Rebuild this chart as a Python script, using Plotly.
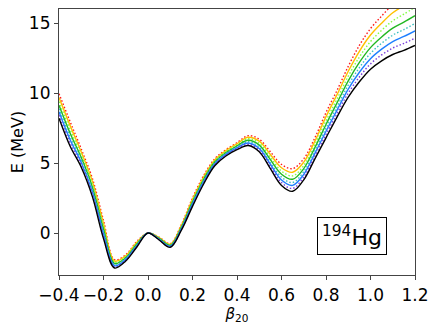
import plotly.graph_objects as go

beta = [-0.40, -0.35, -0.30, -0.25, -0.20, -0.15, -0.10, -0.05, 0.00, 0.05, 0.10,
        0.15, 0.20, 0.25, 0.30, 0.35, 0.40, 0.45, 0.50, 0.55, 0.60, 0.65, 0.70,
        0.75, 0.80, 0.85, 0.90, 0.95, 1.00, 1.05, 1.10, 1.15, 1.20]

e_black = [8.2, 6.2, 4.7, 2.6, -0.4, -2.5, -2.0, -1.0, 0.0, -0.5, -1.02, 0.2, 1.9, 3.5, 4.8, 5.5, 5.95,
           6.25, 5.8, 4.6, 3.4, 2.98, 3.8, 5.3, 6.8, 8.3, 9.7, 10.8, 11.7, 12.3, 12.75, 13.05, 13.4]
e_purple = [8.43, 6.43, 4.87, 2.77, -0.23, -2.42, -1.94, -0.95, 0.0, -0.47, -0.99, 0.25, 1.98, 3.58, 4.87,
            5.56, 6.02, 6.34, 5.92, 4.76, 3.6, 3.19, 4.0, 5.5, 7.03, 8.55, 9.99, 11.14, 12.08, 12.72,
            13.21, 13.54, 13.92]
e_blue = [8.66, 6.66, 5.04, 2.94, -0.06, -2.34, -1.88, -0.9, 0.0, -0.45, -0.95, 0.3, 2.06, 3.66, 4.93,
          5.62, 6.08, 6.43, 6.03, 4.91, 3.79, 3.4, 4.19, 5.69, 7.27, 8.79, 10.27, 11.48, 12.45, 13.13,
          13.67, 14.04, 14.44]
e_cyan = [8.88, 6.88, 5.21, 3.11, 0.11, -2.27, -1.82, -0.84, 0.0, -0.42, -0.92, 0.36, 2.13, 3.73, 5.0,
          5.68, 6.15, 6.52, 6.15, 5.07, 3.99, 3.61, 4.39, 5.89, 7.5, 9.04, 10.56, 11.81, 12.83, 13.55,
          14.13, 14.53, 14.96]
e_green = [9.13, 7.13, 5.39, 3.29, 0.29, -2.18, -1.76, -0.79, 0.0, -0.39, -0.88, 0.41, 2.22, 3.82, 5.07,
           5.74, 6.22, 6.62, 6.28, 5.24, 4.2, 3.84, 4.6, 6.1, 7.75, 9.31, 10.87, 12.18, 13.24, 14.0,
           14.63, 15.06, 15.52]
e_lgreen = [9.39, 7.39, 5.58, 3.48, 0.48, -2.09, -1.69, -0.73, 0.0, -0.36, -0.84, 0.47, 2.31, 3.91, 5.14,
            5.81, 6.29, 6.73, 6.41, 5.42, 4.42, 4.08, 4.82, 6.32, 8.02, 9.59, 11.2, 12.57, 13.67, 14.48,
            15.16, 15.63, 16.12]
e_gold = [9.67, 7.67, 5.79, 3.69, 0.69, -2.0, -1.62, -0.66, 0.0, -0.33, -0.8, 0.54, 2.4, 4.0, 5.22,
          5.88, 6.37, 6.84, 6.56, 5.61, 4.66, 4.34, 5.06, 6.56, 8.31, 9.9, 11.55, 12.98, 14.14, 14.99,
          15.73, 16.24, 16.76]
e_red = [9.95, 7.95, 6.0, 3.9, 0.9, -1.9, -1.55, -0.6, 0.0, -0.3, -0.76, 0.6, 2.5, 4.1, 5.3, 5.95,
         6.45, 6.95, 6.7, 5.8, 4.9, 4.6, 5.3, 6.8, 8.6, 10.2, 11.9, 13.4, 14.6, 15.5, 16.3, 16.85, 17.4]

# drawn bottom to top, alternating solid / dotted
curves = [
    (e_black, "black", "solid"),
    (e_purple, "#7a3fdc", "dot"),
    (e_blue, "#1e7fff", "solid"),
    (e_cyan, "#3cc0c0", "dot"),
    (e_green, "#22b822", "solid"),
    (e_lgreen, "#80ff40", "dot"),
    (e_gold, "#ffc000", "solid"),
    (e_red, "#ff1a1a", "dot"),
]

fig = go.Figure()
for e, col, dash in reversed(curves):
    if dash == "dot":
        dash = "1.5px,2px"
    fig.add_trace(go.Scatter(x=beta, y=e, mode="lines",
                             line=dict(color=col, dash=dash, width=1.4, shape="spline", smoothing=1.0),
                             showlegend=False))

axis_common = dict(showgrid=False, zeroline=False, showline=True, linecolor="#444", linewidth=1.2,
                   mirror=True, ticks="outside", ticklen=4, tickwidth=1, tickcolor="#444",
                   automargin=False,
                   tickfont=dict(family="DejaVu Sans", size=17, color="black"))

# page body has an 8px margin, so the figure is sized/offset to compensate
fig.update_layout(
    width=428, height=320,
    margin=dict(l=51, r=21, t=1, b=53),
    plot_bgcolor="white", paper_bgcolor="white",
    xaxis=dict(range=[-0.4, 1.2], tickvals=[-0.4, -0.2, 0.0, 0.2, 0.4, 0.6, 0.8, 1.0, 1.2],
               ticktext=["\u22120.4", "\u22120.2", "0.0", "0.2", "0.4", "0.6", "0.8", "1.0", "1.2"],
               title=dict(text="<i>\u03b2</i><sub>20</sub>", standoff=2,
                          font=dict(family="DejaVu Sans", size=15, color="black")),
               **axis_common),
    yaxis=dict(range=[-3, 16], tickvals=[0, 5, 10, 15],
               title=dict(text="E (MeV)", standoff=6,
                          font=dict(family="DejaVu Sans", size=16, color="black")),
               **axis_common),
    annotations=[dict(x=0.921, y=0.218, xref="paper", yref="paper", xanchor="right", yanchor="top",
                      text="<sup>194</sup>Hg", showarrow=False,
                      font=dict(family="DejaVu Sans", size=22, color="black"),
                      bordercolor="black", borderwidth=1, borderpad=4, bgcolor="white")],
)

fig.write_html("out.html")
